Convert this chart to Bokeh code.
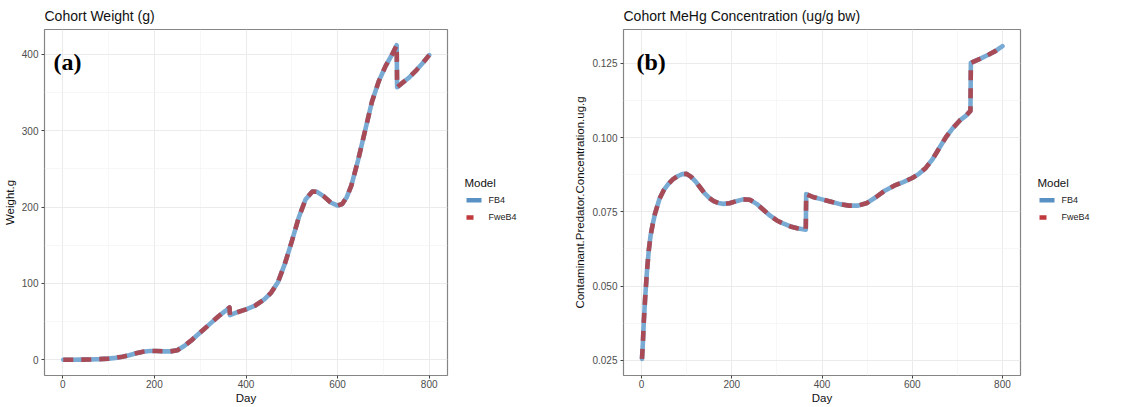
from bokeh.plotting import figure
from bokeh.layouts import row
from bokeh.models import FixedTicker, Label, NumeralTickFormatter, Range1d
from bokeh.core.properties import value
from bokeh.embed import file_html
from bokeh.resources import INLINE

# Cohort weight (g) by day
weight_day = [1, 20, 40, 60, 80, 100, 115, 130, 145, 160, 175, 190, 205, 220, 235, 250,
              265, 280, 295, 310, 325, 340, 355, 364, 365, 380, 400, 420, 440, 455, 470,
              485, 500, 515, 530, 545, 555, 570, 585, 600, 610, 620, 630, 645, 660, 675,
              690, 705, 720, 729, 730, 740, 755, 770, 785, 800]
weight_g = [0, 0, 0.2, 0.4, 0.8, 1.5, 2.5, 4, 6, 8.5, 10.5, 11.5, 11.5, 11, 11, 12.5,
            18, 25, 33, 41, 49, 57, 64, 68.5, 58.5, 62, 66, 71, 79, 88, 102,
            126, 155, 186, 210, 220.5, 220, 214, 206, 202, 204, 213, 228, 262, 300, 338,
            365, 385, 401, 412, 357, 362, 369, 378, 388, 399]

# Cohort MeHg concentration (ug/g bw) by day
conc_day = [1, 3, 5, 8, 12, 16, 20, 25, 30, 40, 50, 60, 70, 80, 90, 100, 110, 120, 130,
            140, 150, 160, 170, 180, 195, 210, 225, 240, 255, 270, 285, 300, 315, 330,
            345, 364, 365, 380, 400, 420, 440, 460, 480, 500, 520, 540, 560, 580, 600,
            615, 630, 645, 660, 675, 690, 705, 720, 729, 730, 750, 770, 785, 800]
conc_ugg = [0.0255, 0.031, 0.038, 0.046, 0.055, 0.062, 0.067, 0.071, 0.0745, 0.0795,
            0.0825, 0.0845, 0.086, 0.087, 0.0877, 0.0878, 0.0868, 0.0852, 0.0832, 0.0812,
            0.0797, 0.0786, 0.078, 0.0777, 0.0779, 0.0786, 0.0792, 0.0791, 0.0777, 0.0757,
            0.0737, 0.0721, 0.071, 0.0701, 0.0695, 0.069, 0.081, 0.080, 0.0792, 0.0784,
            0.0776, 0.0771, 0.0771, 0.078, 0.080, 0.0822, 0.0838, 0.085, 0.0864, 0.0878,
            0.0898, 0.0927, 0.0965, 0.1002, 0.1032, 0.1057, 0.1075, 0.109, 0.1252, 0.1265,
            0.128, 0.1292, 0.1308]

models = ["FB4", "FweB4"]
model_colors = ["#5a91c4", "#c0393d"]
model_dashes = ["solid", "7 9"]
line_colors = ["#78aad3", "#a94b57"]

x_ticks = [0, 200, 400, 600, 800]
x_minor = [100, 300, 500, 700]
w_ticks = [0, 100, 200, 300, 400]
w_minor = [50, 150, 250, 350]
c_ticks = [0.025, 0.05, 0.075, 0.1, 0.125]
c_minor = [0.0375, 0.0625, 0.0875, 0.1125]

SANS = "Liberation Sans"
H = 407


def make_panel(title, tag, xs, ys, y_label, y_rng, y_ticks, y_minor, width, left,
               tag_x, fmt=None):
    p = figure(width=width, height=H, output_backend="svg", toolbar_location=None,
               x_range=Range1d(-40, 840), y_range=Range1d(*y_rng),
               min_border_left=left, min_border_right=3,
               min_border_top=28, min_border_bottom=32)
    p.title.text = title
    p.title.text_font = SANS
    p.title.text_font_size = "14px"
    p.title.text_font_style = "normal"
    p.title.text_color = "#111111"
    p.title.offset = 0
    p.title.standoff = 11

    p.background_fill_color = "white"
    p.border_fill_color = "white"
    p.outline_line_color = "#858585"
    p.outline_line_width = 1.2

    p.xaxis.ticker = FixedTicker(ticks=x_ticks, minor_ticks=x_minor)
    p.yaxis.ticker = FixedTicker(ticks=y_ticks, minor_ticks=y_minor)
    if fmt:
        p.yaxis.formatter = NumeralTickFormatter(format=fmt)
    for ax in (p.xaxis, p.yaxis):
        ax.axis_line_color = None
        ax.major_tick_line_color = "#444444"
        ax.major_tick_out = 3
        ax.major_tick_in = 0
        ax.minor_tick_line_color = None
        ax.major_label_text_font = SANS
        ax.major_label_text_font_size = "10px"
        ax.major_label_text_color = "#4d4d4d"
        ax.axis_label_text_font = SANS
        ax.axis_label_text_font_size = "11.5px"
        ax.axis_label_text_font_style = "normal"
        ax.axis_label_text_color = "#111111"
    p.xaxis.major_label_standoff = 0
    p.xaxis.axis_label_standoff = 1
    p.yaxis.major_label_standoff = 2
    p.yaxis.axis_label_standoff = 3
    p.xaxis.axis_label = "Day"
    p.yaxis.axis_label = y_label

    p.grid.grid_line_color = "#ebebeb"
    p.grid.grid_line_width = 1
    p.grid.minor_grid_line_color = "#f4f4f4"
    p.grid.minor_grid_line_width = 0.7

    # FB4 drawn solid underneath, FweB4 dashed on top
    p.line(xs, ys, line_color=line_colors[0], line_width=4.6, line_join="round",
           line_cap="round")
    p.line(xs, ys, line_color=line_colors[1], line_width=4.6, line_join="round",
           line_dash="10 8")

    p.add_layout(Label(x=tag_x, y=327, x_units="screen", y_units="screen", text=tag,
                       text_font="Liberation Serif", text_font_style="bold",
                       text_font_size="24px", text_baseline="top", text_color="black"))
    return p


def make_key(width):
    # Legend column beside a panel; coordinates are pixels from the top-left
    k = figure(width=width, height=H, output_backend="svg", toolbar_location=None,
               x_range=Range1d(0, width), y_range=Range1d(H, 0),
               min_border=0, x_axis_type=None, y_axis_type=None)
    k.grid.visible = False
    k.outline_line_color = None
    k.border_fill_color = "white"
    k.background_fill_color = "white"
    k.text(x=[14], y=[180], text=["Model"], text_font=value(SANS),
           text_font_size="11.5px", text_baseline="middle", text_color="#111111")
    for i, (name, col, dash) in enumerate(zip(models, model_colors, model_dashes)):
        y = 201 + 20 * i
        k.segment(x0=[16], y0=[y], x1=[31], y1=[y], line_color=col, line_width=4.5,
                  line_dash=dash)
        k.text(x=[38], y=[y], text=[name], text_font=value(SANS), text_font_size="9px",
               text_baseline="middle", text_color="#222222")
    return k


p1 = make_panel("Cohort Weight (g)", "(a)", weight_day, weight_g, "Weight.g",
                (-20.6, 432.6), w_ticks, w_minor, 450, 43, 9)
p2 = make_panel("Cohort MeHg Concentration (ug/g bw)", "(b)", conc_day, conc_ugg,
                "Contaminant.Predator.Concentration.ug.g",
                (0.0199, 0.1364), c_ticks, c_minor, 453, 53, 13, fmt="0.000")

layout = row(p1, make_key(120), p2, make_key(115))
open("out.html", "w").write(file_html(layout, INLINE))
